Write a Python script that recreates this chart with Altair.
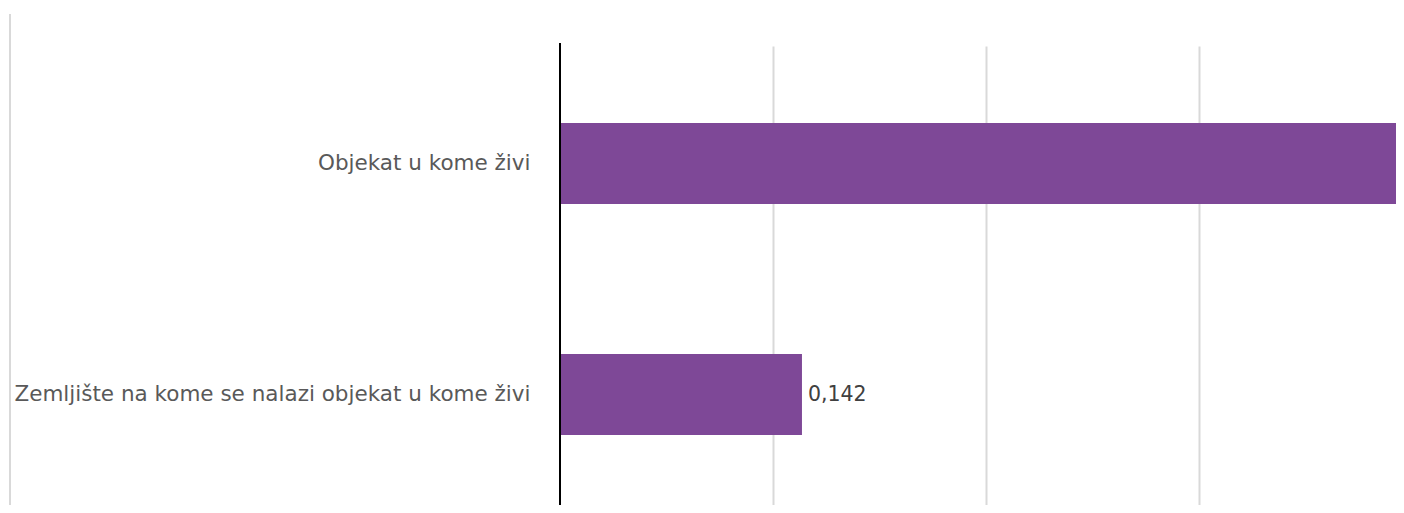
import altair as alt
import pandas as pd

categories = ["Objekat u kome živi", "Zemljište na kome se nalazi objekat u kome živi"]
values = [0.858, 0.142]
value_labels = ["0,858", "0,142"]
grid_ticks = [0.125, 0.25, 0.375]

W = 836
H = 459
x_max = 836 / 1704.0

df = pd.DataFrame({"cat": categories, "val": values, "lab": value_labels})

y_enc = alt.Y(
    "cat:N",
    sort=categories,
    scale=alt.Scale(paddingInner=0.6494, paddingOuter=0.318, align=0.524),
    axis=alt.Axis(
        title=None, domain=False, ticks=False, labelFontSize=21.5,
        labelColor="#595959", labelPadding=30, labelFont="DejaVu Sans",
        labelLimit=0,
    ),
)
x_enc = alt.X(
    "val:Q",
    scale=alt.Scale(domain=[0, x_max], nice=False, zero=True),
    axis=alt.Axis(
        title=None, values=grid_ticks, labels=False, ticks=False, domain=False,
        grid=True, gridColor="#d9d9d9", gridWidth=2,
    ),
)

bars = alt.Chart(df).mark_bar(color="#7e4897", clip=True).encode(x=x_enc, y=y_enc)

# only labels that fall inside the visible range are shown (as in the reference)
text = alt.Chart(df).transform_filter(
    alt.datum.val < x_max * 0.8
).mark_text(
    align="left", baseline="middle", dx=6, fontSize=20.5, color="#404040",
    font="DejaVu Sans",
).encode(x=alt.X("val:Q"), y=alt.Y("cat:N", sort=categories), text="lab:N")

one = pd.DataFrame({"k": [0]})
axis_line = alt.Chart(one).mark_rule(color="#000000", strokeWidth=2).encode(
    x=alt.value(0), y=alt.value(-3), y2=alt.value(H)
)
left_line = alt.Chart(one).mark_rule(color="#d9d9d9", strokeWidth=2).encode(
    x=alt.value(-550), y=alt.value(-32), y2=alt.value(H)
)

chart = alt.layer(bars, text, axis_line, left_line).properties(
    width=W, height=H,
    autosize=alt.AutoSizeParams(type="none"),
    padding={"left": 552, "top": 38, "right": 0, "bottom": 0},
).configure_view(strokeWidth=0)

chart.save("out.html", embed_options={"renderer": "svg", "actions": False})
